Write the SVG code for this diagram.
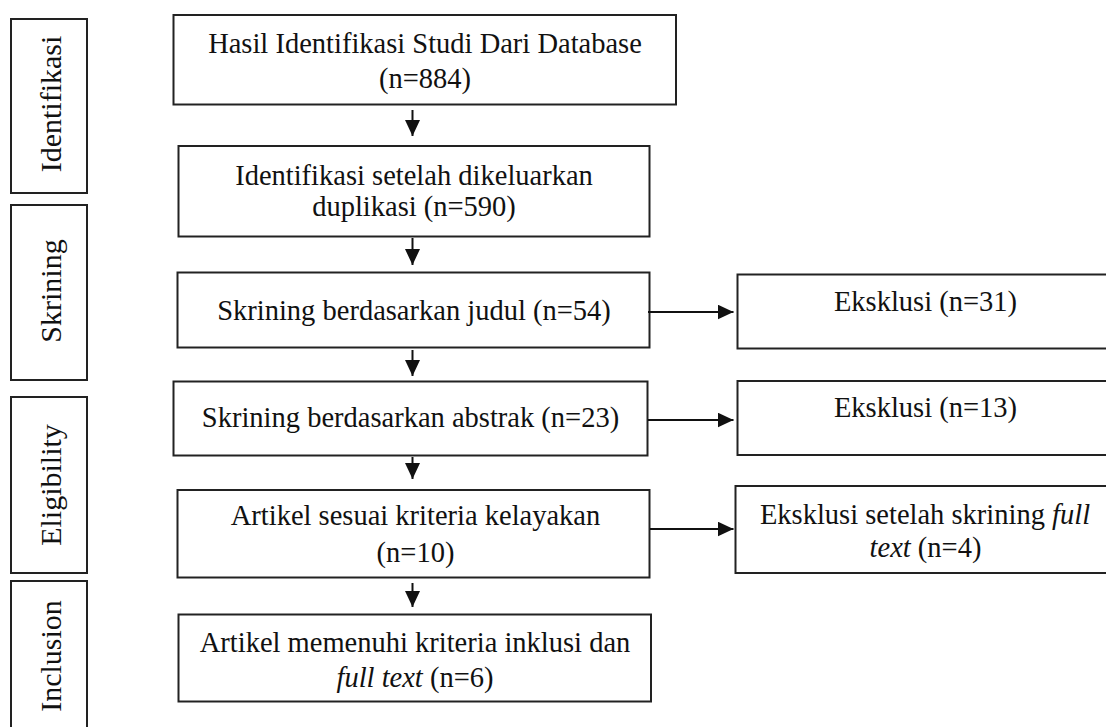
<svg xmlns="http://www.w3.org/2000/svg" width="1106" height="727" viewBox="0 0 1106 727">
<style>
.box{fill:#fff;stroke:#222;stroke-width:2}
.t{font-family:"Liberation Serif","Times New Roman",serif;font-size:28.5px;fill:#111;text-anchor:middle}
.v{font-family:"Liberation Serif","Times New Roman",serif;font-size:30px;fill:#111;text-anchor:middle}
.c{stroke:#111;stroke-width:2;fill:none}
.i{font-style:italic}
</style>
<defs>
<marker id="ah" markerUnits="userSpaceOnUse" markerWidth="16" markerHeight="15" refX="16" refY="7.5" orient="auto">
<path d="M0,0 L16,7.5 L0,15 z" fill="#111"/>
</marker>
</defs>
<rect width="1106" height="727" fill="#fff"/>

<g id="stage-identifikasi"><rect class="box" x="11" y="19" width="76" height="174"/><text class="v" transform="translate(60.5,104) rotate(-90)">Identifikasi</text></g>
<g id="stage-skrining"><rect class="box" x="11" y="205" width="76" height="175"/><text class="v" transform="translate(60.5,291) rotate(-90)">Skrining</text></g>
<g id="stage-eligibility"><rect class="box" x="11" y="397" width="76" height="176"/><text class="v" transform="translate(60.5,485) rotate(-90)">Eligibility</text></g>
<g id="stage-inclusion"><rect class="box" x="11" y="581" width="76" height="160"/><text class="v" transform="translate(60.5,656) rotate(-90)">Inclusion</text></g>

<g id="n1"><rect class="box" x="173.5" y="15" width="502.5" height="89.5"/><text class="t" x="425" y="53">Hasil Identifikasi Studi Dari Database</text><text class="t" x="425" y="87.5">(n=884)</text></g>
<g id="n2"><rect class="box" x="178.5" y="146" width="471" height="90.5"/><text class="t" x="414" y="185">Identifikasi setelah dikeluarkan</text><text class="t" x="414" y="216">duplikasi (n=590)</text></g>
<g id="n3"><rect class="box" x="177.5" y="272.5" width="472" height="75"/><text class="t" x="414" y="320">Skrining berdasarkan judul (n=54)</text></g>
<g id="n4"><rect class="box" x="173.5" y="381.5" width="474" height="74"/><text class="t" x="410.5" y="426.5">Skrining berdasarkan abstrak (n=23)</text></g>
<g id="n5"><rect class="box" x="177.5" y="490" width="472" height="87.5"/><text class="t" x="415.5" y="525">Artikel sesuai kriteria kelayakan</text><text class="t" x="415.5" y="561.5">(n=10)</text></g>
<g id="n6"><rect class="box" x="178.5" y="614.5" width="472.5" height="87"/><text class="t" x="415" y="651.5">Artikel memenuhi kriteria inklusi dan</text><text class="t" x="415" y="686.5"><tspan class="i">full text</tspan> (n=6)</text></g>

<g id="e1"><rect class="box" x="737.5" y="274.5" width="380" height="74"/><text class="t" x="925.5" y="310.5">Eksklusi (n=31)</text></g>
<g id="e2"><rect class="box" x="737.5" y="381" width="380" height="74"/><text class="t" x="925.5" y="416.5">Eksklusi (n=13)</text></g>
<g id="e3"><rect class="box" x="735.5" y="486" width="382" height="87"/><text class="t" x="925" y="523.5">Eksklusi setelah skrining <tspan class="i">full</tspan></text><text class="t" x="925.5" y="556.5"><tspan class="i">text</tspan> (n=4)</text></g>

<g id="connectors">
<line class="c" x1="412.5" y1="110" x2="412.5" y2="136" marker-end="url(#ah)"/>
<line class="c" x1="412.5" y1="238" x2="412.5" y2="265" marker-end="url(#ah)"/>
<line class="c" x1="412.5" y1="350" x2="412.5" y2="376" marker-end="url(#ah)"/>
<line class="c" x1="412.5" y1="457" x2="412.5" y2="479" marker-end="url(#ah)"/>
<line class="c" x1="412.5" y1="583" x2="412.5" y2="607" marker-end="url(#ah)"/>
<line class="c" x1="648" y1="312" x2="733.5" y2="312" marker-end="url(#ah)"/>
<line class="c" x1="648" y1="420" x2="733.5" y2="420" marker-end="url(#ah)"/>
<line class="c" x1="650" y1="529" x2="733.5" y2="529" marker-end="url(#ah)"/>
</g>
</svg>
